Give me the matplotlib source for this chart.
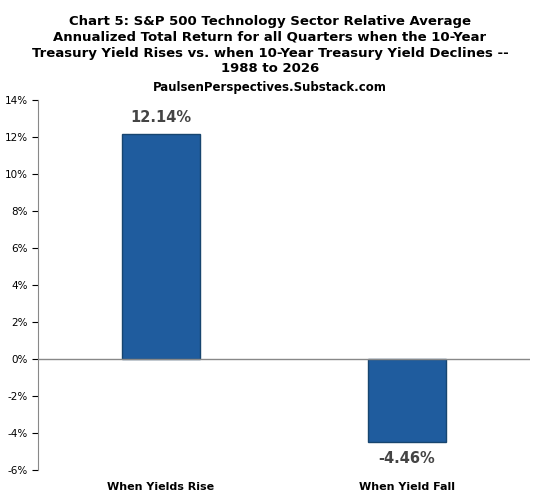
import matplotlib
matplotlib.use("Agg")
import matplotlib.pyplot as plt
from matplotlib.ticker import FuncFormatter

categories = ["When Yields Rise", "When Yield Fall"]
values = [12.14, -4.46]
labels = ["12.14%", "-4.46%"]

fig = plt.figure(figsize=(5.4, 5.03), dpi=100)
ax = fig.add_axes([38/540, 1-470/503, 492/540, 370/503])
ax.bar(range(2), values, width=0.32, color="#1F5C9E", edgecolor="#17456F", linewidth=1)
ax.set_xlim(-0.5, 1.5)
ax.set_ylim(-6, 14)
ax.set_yticks(range(-6, 15, 2))
ax.yaxis.set_major_formatter(FuncFormatter(lambda v, p: f"{int(v)}%"))
ax.tick_params(axis="y", labelsize=7.5, length=4, direction="out")
ax.set_xticks([])
for s in ["top", "right", "bottom"]:
    ax.spines[s].set_visible(False)
ax.spines["left"].set_color("#888888")
ax.axhline(0, color="#888888", lw=1)
for i, (v, l) in enumerate(zip(values, labels)):
    y = v + 0.5 if v > 0 else v - 0.5
    ax.text(i, y, l, ha="center", va="bottom" if v > 0 else "top",
            fontsize=10.5, fontweight="bold", color="#444444")
for i, c in enumerate(categories):
    ax.text(i, -6.9, c, ha="center", va="center", fontsize=8, fontweight="bold")
fig.text(0.5, 1-45/503, "Chart 5: S&P 500 Technology Sector Relative Average\n"
         "Annualized Total Return for all Quarters when the 10-Year\n"
         "Treasury Yield Rises vs. when 10-Year Treasury Yield Declines --\n"
         "1988 to 2026", ha="center", va="center", fontsize=9.5,
         fontweight="bold", linespacing=1.3)
fig.text(0.5, 1-88/503, "PaulsenPerspectives.Substack.com", ha="center",
         va="center", fontsize=8.5, fontweight="bold")
fig.savefig("out.png", dpi=100)
